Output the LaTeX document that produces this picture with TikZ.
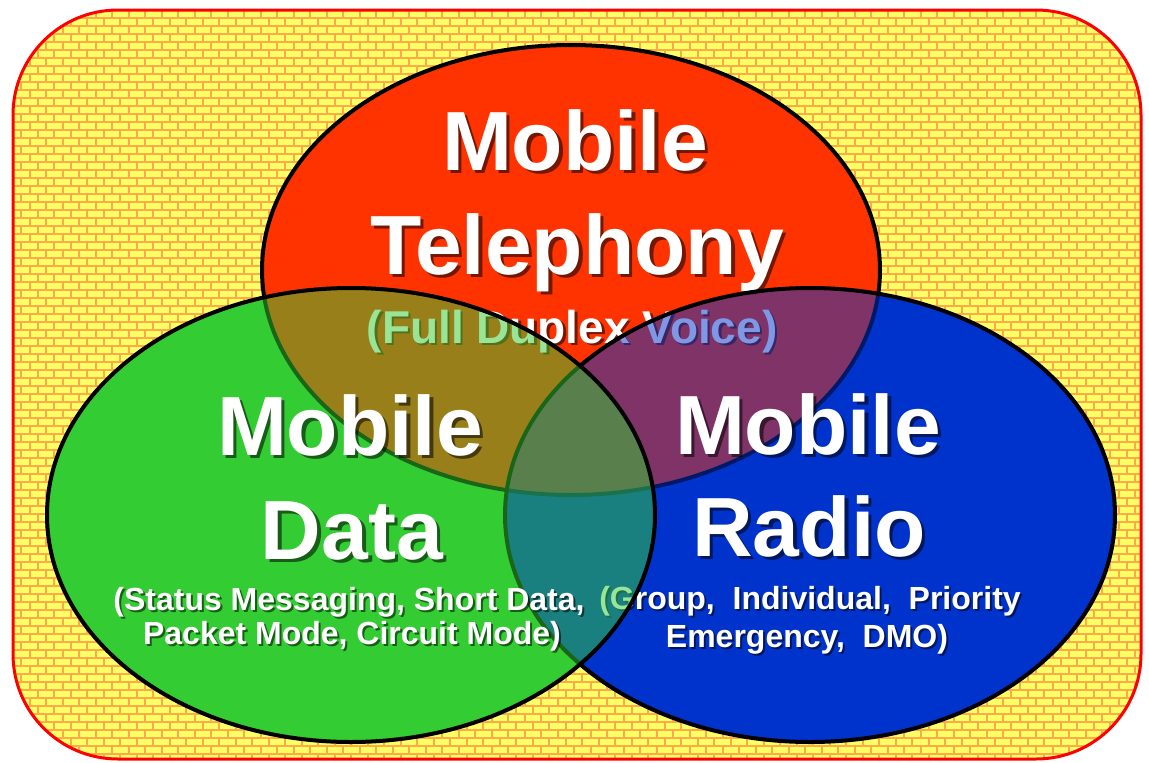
\documentclass[tikz,border=0pt]{standalone}
\usepackage{fontspec}
\setmainfont{Liberation Sans}
\definecolor{brickY}{HTML}{FFFF66}
\definecolor{mortar}{HTML}{FFAA48}
\definecolor{redE}{HTML}{FF3300}
\definecolor{greenE}{HTML}{33CC33}
\definecolor{blueE}{HTML}{0033CC}
\newcommand\shd[2]{% shadow offset, text
  \rlap{\hspace{#1}\raisebox{-#1}{\pgfsetfillopacity{0.55}\color{black}#2\pgfsetfillopacity{1}}}#2}
\begin{document}
\begin{tikzpicture}[x=1pt,y=-1pt,
  bigtxt/.style={font=\fontsize{84}{84}\selectfont\bfseries, text=white, anchor=base, inner sep=0pt},
  midtxt/.style={font=\fontsize{46}{46}\selectfont\bfseries, text=white, anchor=base, inner sep=0pt},
  smalltxt/.style={font=\fontsize{32}{32}\selectfont\bfseries, text=white, anchor=base, inner sep=0pt},
  mortarline/.style={mortar, line width=2pt},
  rim/.style={draw=black, line width=4pt},
  eR/.style={x radius=309pt, y radius=225pt},
  eG/.style={x radius=304pt, y radius=227pt},
  eB/.style={x radius=305pt, y radius=227pt}]
\useasboundingbox (0,0) rectangle (1149,763);
\coordinate (cR) at (571,270);
\coordinate (cG) at (351,515);
\coordinate (cB) at (810,515);
% background with bricks
\begin{scope}
  \clip[rounded corners=105pt] (13,10) rectangle (1141,759);
  \fill[brickY] (0,0) rectangle (1149,763);
  \foreach \r in {0,...,94} {
    \draw[mortarline] (0,{10+8*\r}) -- (1149,{10+8*\r});
  }
  \foreach \k in {0,...,70} {
    \draw[mortarline, dash pattern=on 8pt off 8pt] ({13+16.5*\k},10) -- ({13+16.5*\k},763);
    \draw[mortarline, dash pattern=on 8pt off 8pt, dash phase=8pt] ({21.25+16.5*\k},10) -- ({21.25+16.5*\k},763);
  }
\end{scope}
\draw[red, line width=3pt, rounded corners=105pt] (13,10) rectangle (1141,759);
% opaque bases
\fill[greenE] (cG) ellipse [eG];
\fill[blueE] (cB) ellipse [eB];
% red circle
\fill[redE] (cR) ellipse [eR];
\draw[rim] (cR) ellipse [eR];
\node[bigtxt] (t1) at (575,170) {\shd{3.5pt}{Mobile}};
\node[bigtxt] (t2) at (577,274) {\shd{3.5pt}{Telephony}};
\node[midtxt] (t3) at (572,343) {\shd{2.5pt}{(Full Duplex Voice)}};
% blue circle
\fill[blueE, fill opacity=0.5] (cB) ellipse [eB];
\draw[rim] (cB) ellipse [eB];
\node[bigtxt] (r1) at (808,454) {\shd{3.5pt}{Mobile}};
\node[bigtxt] (r2) at (809,556) {\shd{3.5pt}{Radio}};
\node[smalltxt] (r3) at (810,609) {\shd{2pt}{(Group,\ \ Individual,\ \ Priority}};
\node[smalltxt] (r4) at (807,647) {\shd{2pt}{Emergency,\ \ DMO)}};
% green circle
\fill[greenE, fill opacity=0.5] (cG) ellipse [eG];
\draw[rim] (cG) ellipse [eG];
\node[bigtxt] (d1) at (350,455) {\shd{3.5pt}{Mobile}};
\node[bigtxt] (d2) at (352,559) {\shd{3.5pt}{Data}};
\node[smalltxt] (d3) at (349,610) {\shd{2pt}{(Status Messaging, Short Data,}};
\node[smalltxt] (d4) at (352,644) {\shd{2pt}{Packet Mode, Circuit Mode)}};
\end{tikzpicture}
\end{document}
